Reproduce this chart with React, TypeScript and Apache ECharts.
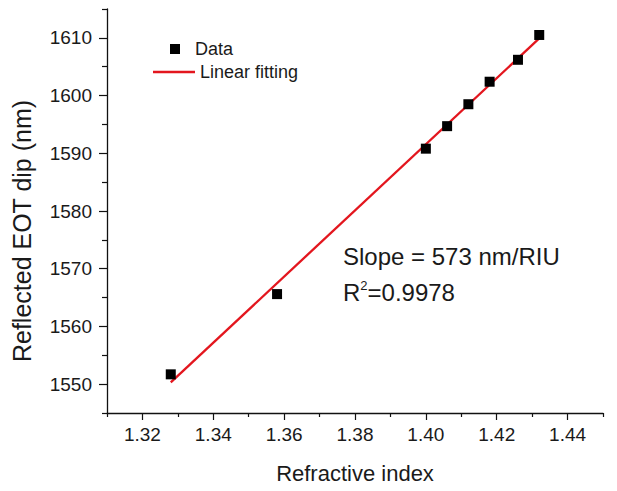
import React, { useEffect, useRef } from "react";
import * as echarts from "echarts";

const refractiveIndex = [1.328, 1.358, 1.4, 1.406, 1.412, 1.418, 1.426, 1.432];
const eotDip = [1551.7, 1565.6, 1590.8, 1594.7, 1598.5, 1602.4, 1606.2, 1610.5];
const fitX = [1.328, 1.432];
const fitY = [1550.3, 1609.9];
const xMajorTicks = [1.32, 1.34, 1.36, 1.38, 1.4, 1.42, 1.44];
const xMinorTicks = [1.31, 1.33, 1.35, 1.37, 1.39, 1.41, 1.43, 1.45];
const yMajorTicks = [1550, 1560, 1570, 1580, 1590, 1600, 1610];
const yMinorTicks = [1545, 1555, 1565, 1575, 1585, 1595, 1605, 1615];

const FONT = "'Liberation Sans', Arial, sans-serif";
const RED = "#e3161e";

export default function App() {
  const ref = useRef<HTMLDivElement>(null);
  useEffect(() => {
    document.body.style.margin = "0";
    if (!ref.current) return;
    const chart = echarts.init(ref.current, null, { renderer: "svg" });
    const axisLine = { show: true, lineStyle: { color: "#111", width: 1.3 } };
    chart.setOption({
      animation: false,
      backgroundColor: "#fff",
      textStyle: { fontFamily: FONT },
      grid: { left: 107, right: 14, top: 9, bottom: 78, containLabel: false, outerBoundsMode: "none" },
      legend: [
        {
          data: ["Data"],
          left: 170,
          top: 40,
          padding: 0,
          icon: "rect",
          itemWidth: 10,
          itemHeight: 10,
          itemStyle: { color: "#000", opacity: 1 },
          textStyle: { fontSize: 18, color: "#1a1a1a", fontFamily: FONT, padding: [0, 0, 0, 10] },
        },
        {
          data: ["Linear fitting"],
          left: 153,
          top: 63,
          padding: 0,
          icon: "rect",
          itemWidth: 42,
          itemHeight: 2.5,
          itemStyle: { color: RED },
          textStyle: { fontSize: 18, color: "#1a1a1a", fontFamily: FONT },
        },
      ],
      xAxis: [
        {
          type: "value",
          min: 1.31,
          max: 1.45,
          position: "bottom",
          axisLine,
          splitLine: { show: false },
          axisTick: { show: true, inside: false, length: 7, customValues: xMajorTicks, lineStyle: { color: "#111", width: 1.2 } },
          axisLabel: {
            customValues: xMajorTicks,
            formatter: (v: number) => v.toFixed(2),
            fontSize: 19,
            color: "#1a1a1a",
            margin: 12,
            fontFamily: FONT,
          },
          name: "Refractive index",
          nameLocation: "middle",
          nameGap: 49,
          nameTextStyle: { fontSize: 22, color: "#1a1a1a", fontFamily: FONT },
        },
        {
          type: "value",
          min: 1.31,
          max: 1.45,
          position: "bottom",
          gridIndex: 0,
          axisLine: { show: false },
          splitLine: { show: false },
          axisTick: { show: true, inside: false, length: 4, customValues: xMinorTicks, lineStyle: { color: "#111", width: 1.2 } },
          axisLabel: { show: false },
        },
      ],
      yAxis: [
        {
          type: "value",
          min: 1545,
          max: 1615,
          position: "left",
          axisLine,
          splitLine: { show: false },
          axisTick: { show: true, inside: false, length: 8, customValues: yMajorTicks, lineStyle: { color: "#111", width: 1.2 } },
          axisLabel: {
            customValues: yMajorTicks,
            formatter: (v: number) => String(v),
            fontSize: 19,
            color: "#1a1a1a",
            margin: 15,
            fontFamily: FONT,
          },
        },
        {
          type: "value",
          min: 1545,
          max: 1615,
          position: "left",
          gridIndex: 0,
          offset: 0,
          axisLine: { show: false },
          splitLine: { show: false },
          axisTick: { show: true, inside: false, length: 5, customValues: yMinorTicks, lineStyle: { color: "#111", width: 1.2 } },
          axisLabel: { show: false },
        },
      ],
      graphic: [
        {
          type: "text",
          x: 22,
          y: 231,
          rotation: Math.PI / 2,
          style: {
            text: "Reflected EOT dip (nm)",
            fontSize: 25,
            fontFamily: FONT,
            fill: "#1a1a1a",
            align: "center",
            verticalAlign: "middle",
          },
        },
        {
          type: "text",
          x: 343,
          y: 256,
          style: {
            text: "Slope = 573 nm/RIU",
            fontSize: 24,
            fontFamily: FONT,
            fill: "#1a1a1a",
            align: "left",
            verticalAlign: "middle",
          },
        },
        {
          type: "text",
          x: 343,
          y: 292,
          style: {
            text: "R{sup|2}=0.9978",
            fontSize: 24,
            fontFamily: FONT,
            fill: "#1a1a1a",
            align: "left",
            verticalAlign: "middle",
            rich: {
              sup: { fontSize: 13, fontFamily: FONT, fill: "#1a1a1a", verticalAlign: "top", lineHeight: 26 },
            },
          },
        },
      ],
      series: [
        {
          name: "Linear fitting",
          type: "line",
          xAxisIndex: 0,
          yAxisIndex: 0,
          data: fitX.map((x, i) => [x, fitY[i]]),
          symbol: "none",
          lineStyle: { color: RED, width: 2.3 },
          itemStyle: { color: RED },
          z: 2,
        },
        {
          name: "Data",
          type: "scatter",
          xAxisIndex: 0,
          yAxisIndex: 0,
          data: refractiveIndex.map((x, i) => [x, eotDip[i]]),
          symbol: "rect",
          symbolSize: 10,
          itemStyle: { color: "#000", opacity: 1 },
          z: 3,
        },
      ],
    });
    return () => chart.dispose();
  }, []);
  return <div ref={ref} style={{ width: 617, height: 491 }} />;
}
